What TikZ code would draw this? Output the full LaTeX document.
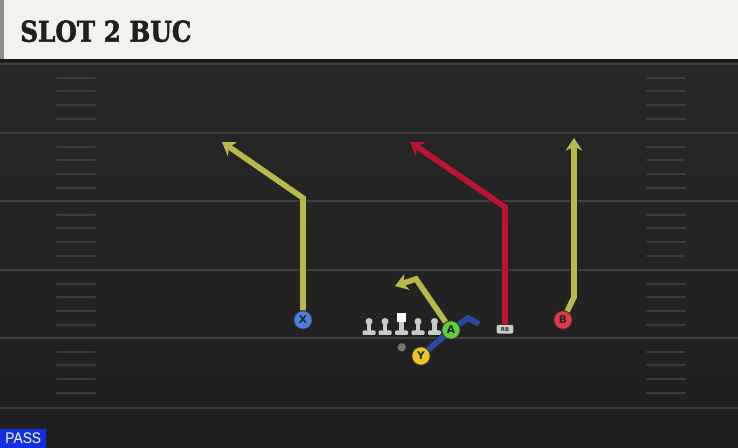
\documentclass[tikz,border=0pt]{standalone}
\usepackage{fontspec}
\usepackage{graphicx}
\setmainfont{Liberation Sans}
\newfontfamily\titlefont[FakeBold=2]{DejaVu Serif Bold}
\newfontfamily\labelfont{DejaVu Sans}
\usetikzlibrary{arrows.meta, positioning}

\definecolor{fieldtop}{RGB}{40,40,40}
\definecolor{fieldbottom}{RGB}{31,31,31}
\definecolor{yardgray}{RGB}{64,64,64}
\definecolor{hashgray}{RGB}{60,60,60}
\definecolor{headerbg}{RGB}{244,242,236}
\definecolor{routeyellow}{RGB}{184,184,76}
\definecolor{routered}{RGB}{186,20,48}
\definecolor{routeblue}{RGB}{40,74,164}
\definecolor{playerblue}{RGB}{74,128,222}
\definecolor{playergreen}{RGB}{96,204,60}
\definecolor{playeryellow}{RGB}{238,198,34}
\definecolor{playerred}{RGB}{228,56,76}
\definecolor{passblue}{RGB}{18,48,226}
\definecolor{olgray}{RGB}{202,202,202}

\tikzset{
  yardline/.style={draw=yardgray, line width=1.5pt},
  hashmark/.style={draw=hashgray, line width=1.5pt, line cap=round},
  route/.style={line width=4.2pt, line join=miter, preaction={draw=black!85, line width=5.6pt}},
  routetip/.style={-{Stealth[length=9.5pt, width=12.5pt, inset=3pt]}},
  player/.style={circle, draw=black!80, line width=0.6pt, minimum size=13.8pt, inner sep=0pt,
    font=\labelfont\bfseries\fontsize{8}{8}\selectfont, text=black!85},
  lineman/.pic={
    \fill[olgray] (0,13.5) circle (3.5);
    \fill[olgray] (-2.2,3) rectangle (2.2,13.5);
    \fill[olgray, rounded corners=0.8pt] (-6.5,0) rectangle (6.5,4.5);
  },
  centerman/.pic={
    \fill[white] (-4.7,12.5) rectangle (4.7,22);
    \fill[olgray] (-2.2,3) rectangle (2.2,12.5);
    \fill[olgray, rounded corners=0.8pt] (-6.5,0) rectangle (6.5,4.5);
  }
}

\begin{document}
\begin{tikzpicture}[x=0.75pt,y=0.75pt,yscale=-1,xscale=1]
\useasboundingbox (0,0) rectangle (738,448);

%Shape: Field
\shade[top color=fieldtop, bottom color=fieldbottom] (0,0) rectangle (738,448);
%Shape: Header
\fill[headerbg] (0,0) rectangle (738,59);
\fill[black!45] (0,0) rectangle (4,59);
\fill[black!90] (0,59) rectangle (738,62);

%Straight Lines: yard lines and hash marks
\foreach \y in {64,133,201,270,338,408}
  \draw[yardline] (0,\y) -- (738,\y);
\foreach \y in {64,133,201,270,338}
  \foreach \d in {14,27.5,41,55} {
    \draw[hashmark] (57,\y+\d) -- (95,\y+\d);
    \draw[hashmark] (647,\y+\d) -- (685,\y+\d);
  }

% Text Node
\draw (20,41.7) node (title) [anchor=base west, inner sep=0pt, text=black!88,
  font=\titlefont\fontsize{21.5}{21.5}\selectfont] {\scalebox{0.86}[1]{SLOT 2 BUC}};
% Text Node
\draw (0,448) node (pass) [anchor=south west, fill=passblue, text=white, inner sep=0pt,
  minimum width=34.5pt, minimum height=14pt, font=\fontsize{11.5}{11.5}\selectfont] {\scalebox{0.9}[1]{PASS}};

%Shape: Line
\pic at (369,335) {lineman};
\pic at (385,335) {lineman};
\pic at (401.5,335) {centerman};
\pic at (418,335) {lineman};
\pic at (434.5,335) {lineman};
%Shape: Ball
\fill[black!55] (401.7,347.3) circle (4.2);

%Shape: Players
\draw (303,320) node (X) [player, fill=playerblue] {X};
\draw (451,330) node (A) [player, fill=playergreen] {A};
\draw (421,356) node (Y) [player, fill=playeryellow] {Y};
\draw (563,320) node (B) [player, fill=playerred] {B};
\draw (505,329.2) node (rb) [fill=olgray, rounded corners=1.5pt, minimum width=12.5pt, minimum height=6.5pt,
  inner sep=0pt, font=\labelfont\bfseries\fontsize{4}{4}\selectfont, text=black!80] {RB};

%Route break points
\coordinate (xbreak) at (303,198);
\coordinate (xend) at (222,142);
\coordinate (abreak) at (416,279);
\coordinate (aend) at (395,286);
\coordinate (yblock) at (468,318);
\coordinate (yend) at (479,324);
\coordinate (rbbreak) at (505,207);
\coordinate (rbend) at (410,142);
\coordinate (bbreak) at (574,297);
\coordinate (bend) at (574,138);

%Straight Lines: routes
\draw[route, routeblue] (Y) -- (A) -- (yblock) -- (yend);
\draw[route, routeyellow, routetip] (X) -- (xbreak) -- (xend);
\draw[route, routeyellow, routetip] (A) -- (abreak) -- (aend);
\draw[route, routered, routetip] (rb.north) -- (rbbreak) -- (rbend);
\draw[route, routeyellow, routetip] (B) -- (bbreak) -- (bend);

\end{tikzpicture}
\end{document}
